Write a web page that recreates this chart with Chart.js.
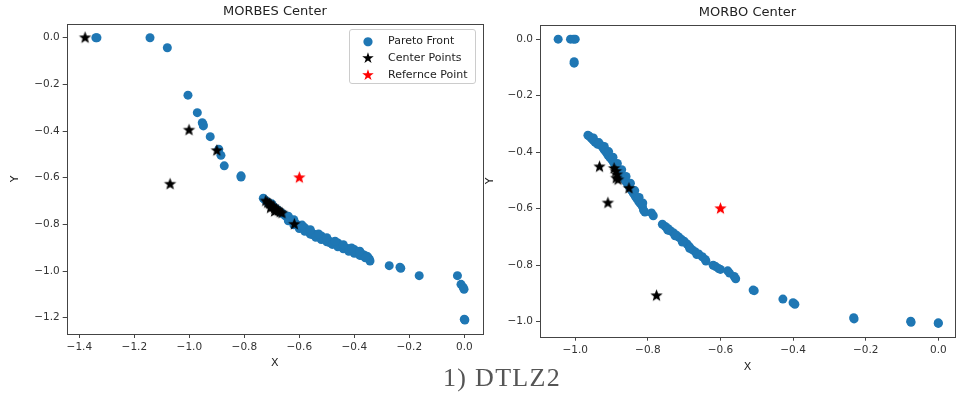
<!DOCTYPE html>
<html>
<head>
<meta charset="utf-8">
<script src="https://cdn.jsdelivr.net/npm/chart.js@4"></script>
<style>
  body { margin: 0; background: #fff; width: 960px; height: 397px; position: relative; overflow: hidden; }
  .plot { position: absolute; top: 0; }
  .legend {
    position: absolute; left: 349px; top: 29px; width: 127px; height: 55px;
    border: 1px solid #ccc; border-radius: 3px; background: rgba(255,255,255,0.8);
    font: 11px "DejaVu Sans", sans-serif; color: #222; box-sizing: border-box;
  }
  .legend div { position: absolute; left: 38px; line-height: 14px; white-space: nowrap; }
  .legend span { position: absolute; left: -30px; width: 20px; text-align: center; }
  .caption {
    position: absolute; left: 443px; top: 365px; font: 26px "Liberation Serif", serif;
    line-height: 26px; color: #555; letter-spacing: 1.3px; white-space: nowrap;
  }
</style>
</head>
<body>
<canvas id="leftChart" class="plot" style="left:0px" width="490" height="380"></canvas>
<canvas id="rightChart" class="plot" style="left:480px" width="480" height="380"></canvas>
<div class="legend">
  <div style="top:4px"><span style="color:#1f77b4;font-size:12px">●</span>Pareto Front</div>
  <div style="top:21px"><span style="color:#000;font-size:15px">★</span>Center Points</div>
  <div style="top:38px"><span style="color:#f00;font-size:15px">★</span>Refernce Point</div>
</div>
<div class="caption">1) DTLZ2</div>
<script>
// tick labels
const leftXTicks = [-1.4, -1.2, -1.0, -0.8, -0.6, -0.4, -0.2, 0.0];
const leftYTicks = [0.0, -0.2, -0.4, -0.6, -0.8, -1.0, -1.2];
const rightXTicks = [-1.0, -0.8, -0.6, -0.4, -0.2, 0.0];
const rightYTicks = [0.0, -0.2, -0.4, -0.6, -0.8, -1.0];

// MORBES: Pareto front [x, y]
const morbesFront = [
  [-1.340, 0.0], [-1.336, 0.0], [-1.143, 0.0], [-1.080, -0.043], [-1.005, -0.246],
  [-0.971, -0.321], [-0.953, -0.364], [-0.950, -0.372], [-0.949, -0.378], [-0.924, -0.424],
  [-0.893, -0.478], [-0.885, -0.504], [-0.873, -0.549], [-0.812, -0.597], [-0.812, -0.592],
  [-0.731, -0.688], [-0.725, -0.695], [-0.718, -0.702], [-0.712, -0.708], [-0.705, -0.714],
  [-0.698, -0.720], [-0.690, -0.728], [-0.682, -0.735], [-0.675, -0.742], [-0.668, -0.748],
  [-0.660, -0.755], [-0.652, -0.762], [-0.645, -0.768], [-0.638, -0.775], [-0.630, -0.782],
  [-0.622, -0.790], [-0.615, -0.795], [-0.607, -0.802], [-0.600, -0.808], [-0.592, -0.813],
  [-0.585, -0.818], [-0.577, -0.823], [-0.570, -0.828], [-0.562, -0.832], [-0.555, -0.837],
  [-0.547, -0.842], [-0.540, -0.846], [-0.532, -0.850], [-0.525, -0.854], [-0.517, -0.858],
  [-0.510, -0.862], [-0.502, -0.866], [-0.495, -0.870], [-0.487, -0.874], [-0.480, -0.878],
  [-0.472, -0.882], [-0.465, -0.886], [-0.457, -0.889], [-0.450, -0.893], [-0.442, -0.897],
  [-0.435, -0.900], [-0.427, -0.903], [-0.420, -0.906], [-0.412, -0.910], [-0.405, -0.913],
  [-0.397, -0.916], [-0.390, -0.920], [-0.382, -0.923], [-0.375, -0.927], [-0.367, -0.930],
  [-0.360, -0.934], [-0.352, -0.938], [-0.348, -0.945], [-0.345, -0.950], [-0.343, -0.957],
  [-0.700, -0.712], [-0.640, -0.765], [-0.580, -0.815], [-0.520, -0.850], [-0.460, -0.880],
  [-0.400, -0.908], [-0.550, -0.845], [-0.490, -0.878], [-0.430, -0.905], [-0.370, -0.935],
  // lower edge of the band
  [-0.640, -0.785], [-0.620, -0.802], [-0.600, -0.818], [-0.580, -0.830], [-0.560, -0.842],
  [-0.540, -0.855], [-0.520, -0.865], [-0.500, -0.875], [-0.480, -0.886], [-0.460, -0.896],
  [-0.440, -0.905], [-0.420, -0.915], [-0.400, -0.924], [-0.380, -0.933], [-0.360, -0.943],
  // upper edge of the band
  [-0.620, -0.780], [-0.590, -0.803], [-0.560, -0.823], [-0.530, -0.841], [-0.500, -0.857],
  [-0.470, -0.872], [-0.440, -0.887], [-0.410, -0.901], [-0.380, -0.915],
  [-0.273, -0.977], [-0.234, -0.984], [-0.231, -0.988], [-0.164, -1.020], [-0.025, -1.020],
  [-0.012, -1.057], [-0.004, -1.070], [-0.001, -1.078], [0.0, -1.207], [0.002, -1.210]
];
const morbesCenters = [
  [-1.379, 0.0], [-1.001, -0.396], [-0.900, -0.484], [-1.070, -0.628],
  [-0.722, -0.700], [-0.715, -0.708], [-0.708, -0.712], [-0.702, -0.720], [-0.695, -0.725],
  [-0.690, -0.732], [-0.683, -0.738], [-0.677, -0.742], [-0.670, -0.748], [-0.663, -0.752],
  [-0.705, -0.730], [-0.690, -0.745], [-0.618, -0.800]
];
const morbesRef = [[-0.6, -0.6]];

// MORBO
const morboFront = [
  [-1.047, 0.0], [-1.013, 0.0], [-1.005, 0.0], [-1.000, 0.0], [-1.003, -0.080], [-1.003, -0.085],
  [-0.965, -0.340], [-0.960, -0.345], [-0.955, -0.352], [-0.950, -0.358], [-0.945, -0.365],
  [-0.938, -0.372], [-0.930, -0.375], [-0.925, -0.382], [-0.920, -0.392], [-0.915, -0.400],
  [-0.910, -0.410], [-0.905, -0.418], [-0.900, -0.425], [-0.895, -0.435], [-0.890, -0.445],
  [-0.885, -0.455], [-0.880, -0.465], [-0.875, -0.475], [-0.870, -0.485], [-0.865, -0.495],
  [-0.860, -0.505], [-0.855, -0.515], [-0.850, -0.525], [-0.845, -0.535], [-0.840, -0.545],
  [-0.835, -0.555], [-0.830, -0.565], [-0.825, -0.575], [-0.820, -0.583], [-0.815, -0.592],
  [-0.812, -0.605], [-0.808, -0.612], [-0.790, -0.615], [-0.785, -0.625], [-0.760, -0.655],
  [-0.752, -0.663], [-0.745, -0.670], [-0.738, -0.678], [-0.730, -0.685], [-0.722, -0.693],
  [-0.715, -0.700], [-0.708, -0.708], [-0.700, -0.715], [-0.692, -0.725], [-0.685, -0.735],
  [-0.678, -0.745], [-0.670, -0.752], [-0.660, -0.760], [-0.650, -0.770], [-0.642, -0.780],
  [-0.640, -0.785], [-0.620, -0.800], [-0.613, -0.805], [-0.605, -0.812], [-0.600, -0.815],
  [-0.580, -0.820], [-0.575, -0.828], [-0.562, -0.840], [-0.558, -0.848], [-0.510, -0.888],
  [-0.507, -0.890], [-0.428, -0.920], [-0.400, -0.933], [-0.395, -0.938], [-0.233, -0.986],
  [-0.232, -0.990], [-0.076, -0.998], [-0.075, -1.002], [0.0, -1.004], [0.0, -1.006],
  // second row along the upper band
  [-0.950, -0.350], [-0.935, -0.366], [-0.920, -0.380], [-0.908, -0.398], [-0.896, -0.418],
  [-0.884, -0.440], [-0.872, -0.462], [-0.860, -0.486], [-0.848, -0.510], [-0.836, -0.536],
  [-0.824, -0.560], [-0.814, -0.580],
  [-0.745, -0.676], [-0.725, -0.696], [-0.705, -0.718], [-0.685, -0.740], [-0.665, -0.762]
];
const morboCenters = [
  [-0.933, -0.452], [-0.893, -0.458], [-0.888, -0.468], [-0.885, -0.480], [-0.887, -0.492],
  [-0.882, -0.498], [-0.852, -0.528], [-0.910, -0.580], [-0.776, -0.908]
];
const morboRef = [[-0.6, -0.6]];

// filled star marker like matplotlib '*'
function makeStar(color, r) {
  const c = document.createElement("canvas");
  const s = Math.ceil(r * 2 + 2);
  c.width = s;
  c.height = s;
  const ctx = c.getContext("2d");
  ctx.beginPath();
  for (let i = 0; i < 10; i++) {
    const rad = i % 2 === 0 ? r : r * 0.42;
    const a = -Math.PI / 2 + (i * Math.PI) / 5;
    ctx.lineTo(s / 2 + rad * Math.cos(a), s / 2 + rad * Math.sin(a));
  }
  ctx.closePath();
  ctx.fillStyle = color;
  ctx.fill();
  return c;
}

const blackStar = makeStar("#000", 6.5);
const redStar = makeStar("#f00", 6.5);

const toXY = (arr) => arr.map((p) => ({ x: p[0], y: p[1] }));
const fmt = (v) => (v === 0 ? "0.0" : v.toFixed(1).replace("-", "\u2212"));

// frame around plot area
const framePlugin = {
  id: "frame",
  afterDraw(chart) {
    const a = chart.chartArea;
    const ctx = chart.ctx;
    ctx.save();
    ctx.strokeStyle = "#444";
    ctx.lineWidth = 1;
    ctx.strokeRect(Math.round(a.left) + 0.5, Math.round(a.top) + 0.5,
      Math.round(a.right - a.left), Math.round(a.bottom - a.top));
    ctx.restore();
  },
};

function renderPlot(id, cfg) {
  const font = { family: "DejaVu Sans", size: 10.5 };
  new Chart(document.getElementById(id).getContext("2d"), {
    type: "scatter",
    data: {
      datasets: [
        { label: "Pareto Front", data: toXY(cfg.front), backgroundColor: "#1f77b4",
          pointRadius: 4.5, borderWidth: 0, order: 3 },
        { label: "Center Points", data: toXY(cfg.centers), pointStyle: blackStar, order: 2 },
        { label: "Refernce Point", data: toXY(cfg.ref), pointStyle: redStar, order: 1 },
      ],
    },
    options: {
      responsive: false,
      animation: false,
      events: [],
      layout: { padding: { left: 0, right: cfg.padRight, top: 0, bottom: 0 } },
      plugins: {
        legend: { display: false },
        tooltip: { enabled: false },
        title: {
          display: true, text: cfg.title, fullSize: false, color: "#222",
          font: { family: "DejaVu Sans", size: 13, weight: "normal" },
          padding: { top: cfg.titleTop, bottom: 4.4 },
        },
      },
      scales: {
        x: {
          type: "linear", min: cfg.xMin, max: cfg.xMax,
          afterBuildTicks: (s) => { s.ticks = cfg.xTicks.map((v) => ({ value: v })); },
          afterFit: (s) => { s.height = cfg.xHeight; },
          grid: { drawOnChartArea: false, tickLength: 4, color: "#444" },
          border: { display: false },
          ticks: { padding: 3, color: "#333", font, maxRotation: 0, callback: fmt },
          title: { display: true, text: "X", color: "#222",
            font: { family: "DejaVu Sans", size: 11 }, padding: { top: 0, bottom: cfg.xTitlePad } },
        },
        y: {
          type: "linear", min: cfg.yMin, max: cfg.yMax,
          afterBuildTicks: (s) => { s.ticks = cfg.yTicks.map((v) => ({ value: v })); },
          afterFit: (s) => { s.width = cfg.yWidth; },
          grid: { drawOnChartArea: false, tickLength: 4, color: "#444" },
          border: { display: false },
          ticks: { padding: 3, color: "#333", font, callback: fmt },
          title: { display: true, text: "Y", color: "#222",
            font: { family: "DejaVu Sans", size: 11 }, padding: { top: cfg.yTitlePad, bottom: 0 } },
        },
      },
    },
    plugins: [framePlugin],
  });
}

renderPlot("leftChart", {
  title: "MORBES Center", front: morbesFront, centers: morbesCenters, ref: morbesRef,
  xMin: -1.446, xMax: 0.068, yMin: -1.27, yMax: 0.059,
  xTicks: leftXTicks, yTicks: leftYTicks,
  padRight: 7, titleTop: 4, xHeight: 46, yWidth: 66.7, xTitlePad: 10.7, yTitlePad: 8.4,
});

renderPlot("rightChart", {
  title: "MORBO Center", front: morboFront, centers: morboCenters, ref: morboRef,
  xMin: -1.097, xMax: 0.046, yMin: -1.053, yMax: 0.05,
  xTicks: rightXTicks, yTicks: rightYTicks,
  padRight: 3.3, titleTop: 5, xHeight: 43.3, yWidth: 60, xTitlePad: 6.7, yTitlePad: 3.4,
});
</script>
</body>
</html>
